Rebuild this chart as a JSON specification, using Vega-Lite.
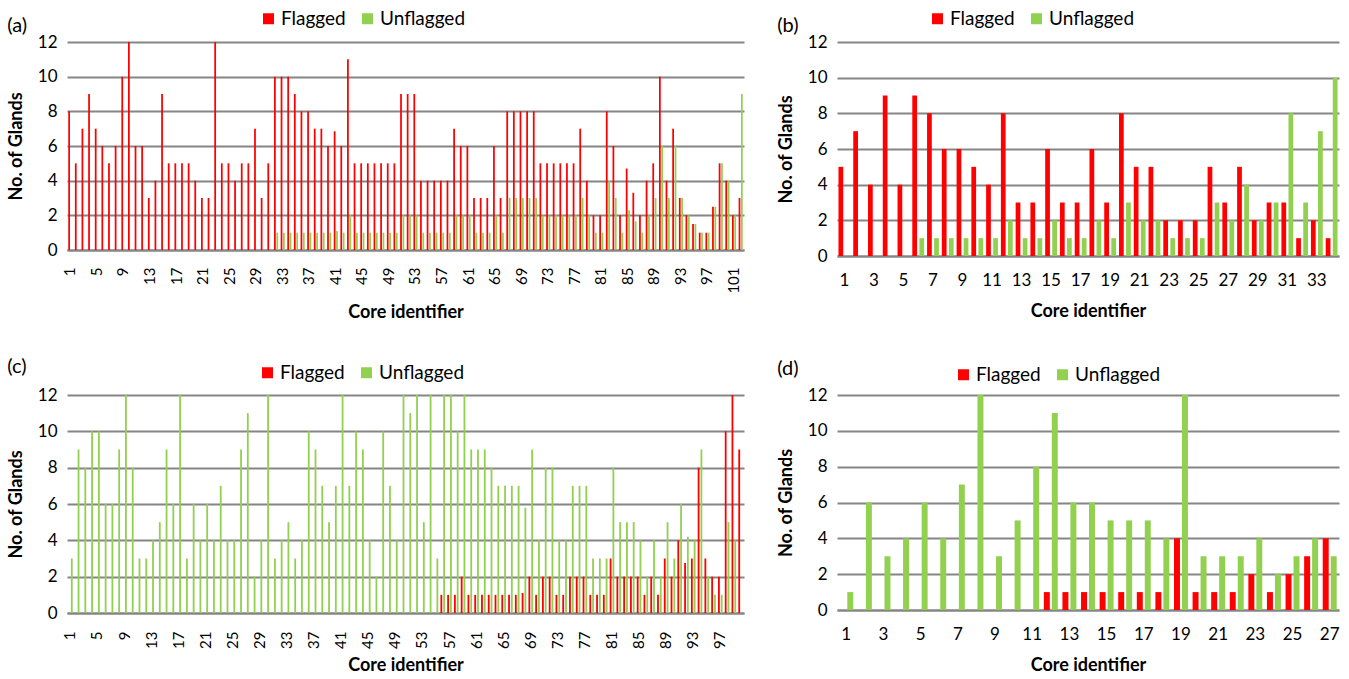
{
  "$schema": "https://vega.github.io/schema/vega-lite/v6.json",
  "background": "white",
  "padding": {"left": 7, "top": 9, "right": 0, "bottom": 0},
  "datasets": {
    "a": [
      {"c":1,"s":"Flagged","n":8},{"c":2,"s":"Flagged","n":5},{"c":3,"s":"Flagged","n":7},{"c":4,"s":"Flagged","n":9},{"c":5,"s":"Flagged","n":7},{"c":6,"s":"Flagged","n":6},{"c":7,"s":"Flagged","n":5},{"c":8,"s":"Flagged","n":6},{"c":9,"s":"Flagged","n":10},{"c":10,"s":"Flagged","n":12},
      {"c":11,"s":"Flagged","n":6},{"c":12,"s":"Flagged","n":6},{"c":13,"s":"Flagged","n":3},{"c":14,"s":"Flagged","n":4},{"c":15,"s":"Flagged","n":9},{"c":16,"s":"Flagged","n":5},{"c":17,"s":"Flagged","n":5},{"c":18,"s":"Flagged","n":5},{"c":19,"s":"Flagged","n":5},{"c":20,"s":"Flagged","n":4},
      {"c":21,"s":"Flagged","n":3},{"c":22,"s":"Flagged","n":3},{"c":23,"s":"Flagged","n":12},{"c":24,"s":"Flagged","n":5},{"c":25,"s":"Flagged","n":5},{"c":26,"s":"Flagged","n":4},{"c":27,"s":"Flagged","n":5},{"c":28,"s":"Flagged","n":5},{"c":29,"s":"Flagged","n":7},{"c":30,"s":"Flagged","n":3},
      {"c":31,"s":"Flagged","n":5},{"c":32,"s":"Flagged","n":10},{"c":33,"s":"Flagged","n":10},{"c":34,"s":"Flagged","n":10},{"c":35,"s":"Flagged","n":9},{"c":36,"s":"Flagged","n":8},{"c":37,"s":"Flagged","n":8},{"c":38,"s":"Flagged","n":7},{"c":39,"s":"Flagged","n":7},{"c":40,"s":"Flagged","n":6},
      {"c":41,"s":"Flagged","n":6.85},{"c":42,"s":"Flagged","n":6},{"c":43,"s":"Flagged","n":11},{"c":44,"s":"Flagged","n":5},{"c":45,"s":"Flagged","n":5},{"c":46,"s":"Flagged","n":5},{"c":47,"s":"Flagged","n":5},{"c":48,"s":"Flagged","n":5},{"c":49,"s":"Flagged","n":5},{"c":50,"s":"Flagged","n":5},
      {"c":51,"s":"Flagged","n":9},{"c":52,"s":"Flagged","n":9},{"c":53,"s":"Flagged","n":9},{"c":54,"s":"Flagged","n":4},{"c":55,"s":"Flagged","n":4},{"c":56,"s":"Flagged","n":4},{"c":57,"s":"Flagged","n":4},{"c":58,"s":"Flagged","n":4},{"c":59,"s":"Flagged","n":7},{"c":60,"s":"Flagged","n":6},
      {"c":61,"s":"Flagged","n":6},{"c":62,"s":"Flagged","n":3},{"c":63,"s":"Flagged","n":3},{"c":64,"s":"Flagged","n":3},{"c":65,"s":"Flagged","n":6},{"c":66,"s":"Flagged","n":3},{"c":67,"s":"Flagged","n":8},{"c":68,"s":"Flagged","n":8},{"c":69,"s":"Flagged","n":8},{"c":70,"s":"Flagged","n":8},
      {"c":71,"s":"Flagged","n":8},{"c":72,"s":"Flagged","n":5},{"c":73,"s":"Flagged","n":5},{"c":74,"s":"Flagged","n":5},{"c":75,"s":"Flagged","n":5},{"c":76,"s":"Flagged","n":5},{"c":77,"s":"Flagged","n":5},{"c":78,"s":"Flagged","n":7},{"c":79,"s":"Flagged","n":4},{"c":80,"s":"Flagged","n":2},
      {"c":81,"s":"Flagged","n":2},{"c":82,"s":"Flagged","n":8},{"c":83,"s":"Flagged","n":6},{"c":84,"s":"Flagged","n":2},{"c":85,"s":"Flagged","n":4.7},{"c":86,"s":"Flagged","n":3.3},{"c":87,"s":"Flagged","n":2},{"c":88,"s":"Flagged","n":4},{"c":89,"s":"Flagged","n":5},{"c":90,"s":"Flagged","n":10},
      {"c":91,"s":"Flagged","n":4},{"c":92,"s":"Flagged","n":7},{"c":93,"s":"Flagged","n":3},{"c":94,"s":"Flagged","n":2},{"c":95,"s":"Flagged","n":1.5},{"c":96,"s":"Flagged","n":1},{"c":97,"s":"Flagged","n":1},{"c":98,"s":"Flagged","n":2.5},{"c":99,"s":"Flagged","n":5},{"c":100,"s":"Flagged","n":4},
      {"c":101,"s":"Flagged","n":2},{"c":102,"s":"Flagged","n":3},
      {"c":32,"s":"Unflagged","n":1},{"c":33,"s":"Unflagged","n":1},{"c":34,"s":"Unflagged","n":1},{"c":35,"s":"Unflagged","n":1},{"c":36,"s":"Unflagged","n":1},{"c":37,"s":"Unflagged","n":1},{"c":38,"s":"Unflagged","n":1},{"c":39,"s":"Unflagged","n":1},{"c":40,"s":"Unflagged","n":1},
      {"c":41,"s":"Unflagged","n":1.1},{"c":42,"s":"Unflagged","n":1},{"c":43,"s":"Unflagged","n":2},{"c":44,"s":"Unflagged","n":1},{"c":45,"s":"Unflagged","n":1},{"c":46,"s":"Unflagged","n":1},{"c":47,"s":"Unflagged","n":1},{"c":48,"s":"Unflagged","n":1},{"c":49,"s":"Unflagged","n":1},{"c":50,"s":"Unflagged","n":1},
      {"c":51,"s":"Unflagged","n":2},{"c":52,"s":"Unflagged","n":2},{"c":53,"s":"Unflagged","n":2},{"c":54,"s":"Unflagged","n":1},{"c":55,"s":"Unflagged","n":1},{"c":56,"s":"Unflagged","n":1},{"c":57,"s":"Unflagged","n":1},{"c":58,"s":"Unflagged","n":1},{"c":59,"s":"Unflagged","n":2},{"c":60,"s":"Unflagged","n":2},
      {"c":61,"s":"Unflagged","n":2},{"c":62,"s":"Unflagged","n":1},{"c":63,"s":"Unflagged","n":1},{"c":64,"s":"Unflagged","n":1},{"c":65,"s":"Unflagged","n":2},{"c":66,"s":"Unflagged","n":1},{"c":67,"s":"Unflagged","n":3},{"c":68,"s":"Unflagged","n":3},{"c":69,"s":"Unflagged","n":3},{"c":70,"s":"Unflagged","n":3},
      {"c":71,"s":"Unflagged","n":3},{"c":72,"s":"Unflagged","n":2},{"c":73,"s":"Unflagged","n":2},{"c":74,"s":"Unflagged","n":2},{"c":75,"s":"Unflagged","n":2},{"c":76,"s":"Unflagged","n":2},{"c":77,"s":"Unflagged","n":2},{"c":78,"s":"Unflagged","n":3},{"c":79,"s":"Unflagged","n":2},{"c":80,"s":"Unflagged","n":1},
      {"c":81,"s":"Unflagged","n":1},{"c":82,"s":"Unflagged","n":4},{"c":83,"s":"Unflagged","n":3},{"c":84,"s":"Unflagged","n":1},{"c":85,"s":"Unflagged","n":2.3},{"c":86,"s":"Unflagged","n":1.65},{"c":87,"s":"Unflagged","n":1},{"c":88,"s":"Unflagged","n":2},{"c":89,"s":"Unflagged","n":3},{"c":90,"s":"Unflagged","n":6},
      {"c":91,"s":"Unflagged","n":3},{"c":92,"s":"Unflagged","n":6},{"c":93,"s":"Unflagged","n":3},{"c":94,"s":"Unflagged","n":2},{"c":95,"s":"Unflagged","n":1.5},{"c":96,"s":"Unflagged","n":1},{"c":97,"s":"Unflagged","n":1},{"c":98,"s":"Unflagged","n":2.5},{"c":99,"s":"Unflagged","n":5},{"c":100,"s":"Unflagged","n":4},
      {"c":101,"s":"Unflagged","n":2},{"c":102,"s":"Unflagged","n":9}
    ],
    "b": [
      {"c":1,"s":"Flagged","n":5},{"c":2,"s":"Flagged","n":7},{"c":3,"s":"Flagged","n":4},{"c":4,"s":"Flagged","n":9},{"c":5,"s":"Flagged","n":4},{"c":6,"s":"Flagged","n":9},{"c":7,"s":"Flagged","n":8},{"c":8,"s":"Flagged","n":6},{"c":9,"s":"Flagged","n":6},{"c":10,"s":"Flagged","n":5},
      {"c":11,"s":"Flagged","n":4},{"c":12,"s":"Flagged","n":8},{"c":13,"s":"Flagged","n":3},{"c":14,"s":"Flagged","n":3},{"c":15,"s":"Flagged","n":6},{"c":16,"s":"Flagged","n":3},{"c":17,"s":"Flagged","n":3},{"c":18,"s":"Flagged","n":6},{"c":19,"s":"Flagged","n":3},{"c":20,"s":"Flagged","n":8},
      {"c":21,"s":"Flagged","n":5},{"c":22,"s":"Flagged","n":5},{"c":23,"s":"Flagged","n":2},{"c":24,"s":"Flagged","n":2},{"c":25,"s":"Flagged","n":2},{"c":26,"s":"Flagged","n":5},{"c":27,"s":"Flagged","n":3},{"c":28,"s":"Flagged","n":5},{"c":29,"s":"Flagged","n":2},{"c":30,"s":"Flagged","n":3},
      {"c":31,"s":"Flagged","n":3},{"c":32,"s":"Flagged","n":1},{"c":33,"s":"Flagged","n":2},{"c":34,"s":"Flagged","n":1},
      {"c":6,"s":"Unflagged","n":1},{"c":7,"s":"Unflagged","n":1},{"c":8,"s":"Unflagged","n":1},{"c":9,"s":"Unflagged","n":1},{"c":10,"s":"Unflagged","n":1},{"c":11,"s":"Unflagged","n":1},{"c":12,"s":"Unflagged","n":2},{"c":13,"s":"Unflagged","n":1},{"c":14,"s":"Unflagged","n":1},{"c":15,"s":"Unflagged","n":2},
      {"c":16,"s":"Unflagged","n":1},{"c":17,"s":"Unflagged","n":1},{"c":18,"s":"Unflagged","n":2},{"c":19,"s":"Unflagged","n":1},{"c":20,"s":"Unflagged","n":3},{"c":21,"s":"Unflagged","n":2},{"c":22,"s":"Unflagged","n":2},{"c":23,"s":"Unflagged","n":1},{"c":24,"s":"Unflagged","n":1},{"c":25,"s":"Unflagged","n":1},
      {"c":26,"s":"Unflagged","n":3},{"c":27,"s":"Unflagged","n":2},{"c":28,"s":"Unflagged","n":4},{"c":29,"s":"Unflagged","n":2},{"c":30,"s":"Unflagged","n":3},{"c":31,"s":"Unflagged","n":8},{"c":32,"s":"Unflagged","n":3},{"c":33,"s":"Unflagged","n":7},{"c":34,"s":"Unflagged","n":10}
    ],
    "c": [
      {"c":1,"s":"Unflagged","n":3},{"c":2,"s":"Unflagged","n":9},{"c":3,"s":"Unflagged","n":8},{"c":4,"s":"Unflagged","n":10},{"c":5,"s":"Unflagged","n":10},{"c":6,"s":"Unflagged","n":6},{"c":7,"s":"Unflagged","n":6},{"c":8,"s":"Unflagged","n":9},{"c":9,"s":"Unflagged","n":12},{"c":10,"s":"Unflagged","n":8},
      {"c":11,"s":"Unflagged","n":3},{"c":12,"s":"Unflagged","n":3},{"c":13,"s":"Unflagged","n":4},{"c":14,"s":"Unflagged","n":5},{"c":15,"s":"Unflagged","n":9},{"c":16,"s":"Unflagged","n":6},{"c":17,"s":"Unflagged","n":12},{"c":18,"s":"Unflagged","n":3},{"c":19,"s":"Unflagged","n":6},{"c":20,"s":"Unflagged","n":4},
      {"c":21,"s":"Unflagged","n":6},{"c":22,"s":"Unflagged","n":4},{"c":23,"s":"Unflagged","n":7},{"c":24,"s":"Unflagged","n":4},{"c":25,"s":"Unflagged","n":4},{"c":26,"s":"Unflagged","n":9},{"c":27,"s":"Unflagged","n":11},{"c":28,"s":"Unflagged","n":2},{"c":29,"s":"Unflagged","n":4},{"c":30,"s":"Unflagged","n":12},
      {"c":31,"s":"Unflagged","n":3},{"c":32,"s":"Unflagged","n":4},{"c":33,"s":"Unflagged","n":5},{"c":34,"s":"Unflagged","n":3},{"c":35,"s":"Unflagged","n":4},{"c":36,"s":"Unflagged","n":10},{"c":37,"s":"Unflagged","n":9},{"c":38,"s":"Unflagged","n":7},{"c":39,"s":"Unflagged","n":5},{"c":40,"s":"Unflagged","n":7},
      {"c":41,"s":"Unflagged","n":12},{"c":42,"s":"Unflagged","n":7},{"c":43,"s":"Unflagged","n":10},{"c":44,"s":"Unflagged","n":9},{"c":45,"s":"Unflagged","n":4},{"c":46,"s":"Unflagged","n":2},{"c":47,"s":"Unflagged","n":10},{"c":48,"s":"Unflagged","n":7},{"c":49,"s":"Unflagged","n":4},{"c":50,"s":"Unflagged","n":12},
      {"c":51,"s":"Unflagged","n":11},{"c":52,"s":"Unflagged","n":12},{"c":53,"s":"Unflagged","n":5},{"c":54,"s":"Unflagged","n":12},{"c":55,"s":"Unflagged","n":3},{"c":56,"s":"Unflagged","n":12},{"c":57,"s":"Unflagged","n":12},{"c":58,"s":"Unflagged","n":10},{"c":59,"s":"Unflagged","n":12},{"c":60,"s":"Unflagged","n":9},
      {"c":61,"s":"Unflagged","n":9},{"c":62,"s":"Unflagged","n":9},{"c":63,"s":"Unflagged","n":8},{"c":64,"s":"Unflagged","n":7},{"c":65,"s":"Unflagged","n":7},{"c":66,"s":"Unflagged","n":7},{"c":67,"s":"Unflagged","n":7},{"c":68,"s":"Unflagged","n":5.8},{"c":69,"s":"Unflagged","n":9},{"c":70,"s":"Unflagged","n":4},
      {"c":71,"s":"Unflagged","n":8},{"c":72,"s":"Unflagged","n":8},{"c":73,"s":"Unflagged","n":4},{"c":74,"s":"Unflagged","n":4},{"c":75,"s":"Unflagged","n":7},{"c":76,"s":"Unflagged","n":7},{"c":77,"s":"Unflagged","n":7},{"c":78,"s":"Unflagged","n":3},{"c":79,"s":"Unflagged","n":3},{"c":80,"s":"Unflagged","n":3},
      {"c":81,"s":"Unflagged","n":8},{"c":82,"s":"Unflagged","n":5},{"c":83,"s":"Unflagged","n":5},{"c":84,"s":"Unflagged","n":5},{"c":85,"s":"Unflagged","n":4},{"c":86,"s":"Unflagged","n":2},{"c":87,"s":"Unflagged","n":4},{"c":88,"s":"Unflagged","n":2},{"c":89,"s":"Unflagged","n":5},{"c":90,"s":"Unflagged","n":3},
      {"c":91,"s":"Unflagged","n":6},{"c":92,"s":"Unflagged","n":4.2},{"c":93,"s":"Unflagged","n":4},{"c":94,"s":"Unflagged","n":9},{"c":95,"s":"Unflagged","n":2},{"c":96,"s":"Unflagged","n":1},{"c":97,"s":"Unflagged","n":1},{"c":98,"s":"Unflagged","n":5},{"c":99,"s":"Unflagged","n":4},
      {"c":56,"s":"Flagged","n":1},{"c":57,"s":"Flagged","n":1},{"c":58,"s":"Flagged","n":1},{"c":59,"s":"Flagged","n":2},{"c":60,"s":"Flagged","n":1},
      {"c":61,"s":"Flagged","n":1},{"c":62,"s":"Flagged","n":1},{"c":63,"s":"Flagged","n":1},{"c":64,"s":"Flagged","n":1},{"c":65,"s":"Flagged","n":1},{"c":66,"s":"Flagged","n":1},{"c":67,"s":"Flagged","n":1},{"c":68,"s":"Flagged","n":1.1},{"c":69,"s":"Flagged","n":2},{"c":70,"s":"Flagged","n":1},
      {"c":71,"s":"Flagged","n":2},{"c":72,"s":"Flagged","n":2},{"c":73,"s":"Flagged","n":1},{"c":74,"s":"Flagged","n":1},{"c":75,"s":"Flagged","n":2},{"c":76,"s":"Flagged","n":2},{"c":77,"s":"Flagged","n":2},{"c":78,"s":"Flagged","n":1},{"c":79,"s":"Flagged","n":1},{"c":80,"s":"Flagged","n":1},
      {"c":81,"s":"Flagged","n":3},{"c":82,"s":"Flagged","n":2},{"c":83,"s":"Flagged","n":2},{"c":84,"s":"Flagged","n":2},{"c":85,"s":"Flagged","n":2},{"c":86,"s":"Flagged","n":1},{"c":87,"s":"Flagged","n":2},{"c":88,"s":"Flagged","n":1},{"c":89,"s":"Flagged","n":3},{"c":90,"s":"Flagged","n":2},
      {"c":91,"s":"Flagged","n":4},{"c":92,"s":"Flagged","n":2.75},{"c":93,"s":"Flagged","n":3},{"c":94,"s":"Flagged","n":8},{"c":95,"s":"Flagged","n":3},{"c":96,"s":"Flagged","n":2},{"c":97,"s":"Flagged","n":2},{"c":98,"s":"Flagged","n":10},{"c":99,"s":"Flagged","n":12},{"c":100,"s":"Flagged","n":9}
    ],
    "d": [
      {"c":1,"s":"Unflagged","n":1},{"c":2,"s":"Unflagged","n":6},{"c":3,"s":"Unflagged","n":3},{"c":4,"s":"Unflagged","n":4},{"c":5,"s":"Unflagged","n":6},{"c":6,"s":"Unflagged","n":4},{"c":7,"s":"Unflagged","n":7},{"c":8,"s":"Unflagged","n":12},{"c":9,"s":"Unflagged","n":3},{"c":10,"s":"Unflagged","n":5},
      {"c":11,"s":"Unflagged","n":8},{"c":12,"s":"Unflagged","n":11},{"c":13,"s":"Unflagged","n":6},{"c":14,"s":"Unflagged","n":6},{"c":15,"s":"Unflagged","n":5},{"c":16,"s":"Unflagged","n":5},{"c":17,"s":"Unflagged","n":5},{"c":18,"s":"Unflagged","n":4},{"c":19,"s":"Unflagged","n":12},{"c":20,"s":"Unflagged","n":3},
      {"c":21,"s":"Unflagged","n":3},{"c":22,"s":"Unflagged","n":3},{"c":23,"s":"Unflagged","n":4},{"c":24,"s":"Unflagged","n":2},{"c":25,"s":"Unflagged","n":3},{"c":26,"s":"Unflagged","n":4},{"c":27,"s":"Unflagged","n":3},
      {"c":12,"s":"Flagged","n":1},{"c":13,"s":"Flagged","n":1},{"c":14,"s":"Flagged","n":1},{"c":15,"s":"Flagged","n":1},{"c":16,"s":"Flagged","n":1},{"c":17,"s":"Flagged","n":1},{"c":18,"s":"Flagged","n":1},{"c":19,"s":"Flagged","n":4},{"c":20,"s":"Flagged","n":1},
      {"c":21,"s":"Flagged","n":1},{"c":22,"s":"Flagged","n":1},{"c":23,"s":"Flagged","n":2},{"c":24,"s":"Flagged","n":1},{"c":25,"s":"Flagged","n":2},{"c":26,"s":"Flagged","n":3},{"c":27,"s":"Flagged","n":4}
    ]
  },
  "columns": 2,
  "bounds": "flush",
  "spacing": {"row": 139, "column": 93},
  "resolve": {"scale": {"color": "independent", "xOffset": "independent", "x": "independent", "y": "independent"}, "legend": {"color": "independent"}},
  "concat": [
    {
      "width": 677, "height": 208,
      "title": {"text": "(a)", "dy": 31},
      "data": {"name": "a"},
      "mark": {"type": "bar"},
      "encoding": {
        "x": {"field": "c", "type": "ordinal", "scale": {"paddingInner": 0.38, "paddingOuter": 0.19}, "axis": {"values": [1,5,9,13,17,21,25,29,33,37,41,45,49,53,57,61,65,69,73,77,81,85,89,93,97,101], "labelAngle": 270, "labelFontSize": 15, "labelPadding": 17, "titlePadding": 10, "title": "Core identifier"}},
        "xOffset": {"field": "s", "type": "nominal", "scale": {"domain": ["Flagged", "Unflagged"], "paddingInner": 0.25, "paddingOuter": 0}},
        "y": {"field": "n", "type": "quantitative", "scale": {"domain": [0, 12], "nice": false}, "axis": {"values": [0,2,4,6,8,10,12], "title": "No. of Glands"}},
        "color": {"field": "s", "type": "nominal", "scale": {"domain": ["Flagged", "Unflagged"], "range": ["#FF0000", "#92D050"]}, "legend": {"title": null, "legendX": 192, "legendY": -33}}
      }
    },
    {
      "width": 502, "height": 214,
      "title": {"text": "(b)", "dy": 31},
      "data": {"name": "b"},
      "mark": {"type": "bar"},
      "encoding": {
        "x": {"field": "c", "type": "ordinal", "scale": {"paddingInner": 0.2, "paddingOuter": 0.1}, "axis": {"values": [1,3,5,7,9,11,13,15,17,19,21,23,25,27,29,31,33], "labelAngle": 0, "labelFontSize": 17, "labelPadding": 16, "title": "Core identifier"}},
        "xOffset": {"field": "s", "type": "nominal", "scale": {"domain": ["Flagged", "Unflagged"], "paddingInner": 0.33, "paddingOuter": 0}},
        "y": {"field": "n", "type": "quantitative", "scale": {"domain": [0, 12], "nice": false}, "axis": {"values": [0,2,4,6,8,10,12], "title": "No. of Glands"}},
        "color": {"field": "s", "type": "nominal", "scale": {"domain": ["Flagged", "Unflagged"], "range": ["#FF0000", "#92D050"]}, "legend": {"title": null, "legendX": 91, "legendY": -33}}
      }
    },
    {
      "width": 677, "height": 218,
      "title": {"text": "(c)", "dy": 18},
      "data": {"name": "c"},
      "mark": {"type": "bar"},
      "encoding": {
        "x": {"field": "c", "type": "ordinal", "scale": {"paddingInner": 0.32, "paddingOuter": 0.16}, "axis": {"values": [1,5,9,13,17,21,25,29,33,37,41,45,49,53,57,61,65,69,73,77,81,85,89,93,97], "labelAngle": 270, "labelFontSize": 15, "labelPadding": 18, "titlePadding": 8, "title": "Core identifier"}},
        "xOffset": {"field": "s", "type": "nominal", "scale": {"domain": ["Flagged", "Unflagged"], "paddingInner": 0.35, "paddingOuter": 0}},
        "y": {"field": "n", "type": "quantitative", "scale": {"domain": [0, 12], "nice": false}, "axis": {"values": [0,2,4,6,8,10,12], "title": "No. of Glands"}},
        "color": {"field": "s", "type": "nominal", "scale": {"domain": ["Flagged", "Unflagged"], "range": ["#FF0000", "#92D050"]}, "legend": {"title": null, "legendX": 191, "legendY": -32}}
      }
    },
    {
      "width": 502, "height": 215,
      "title": {"text": "(d)", "dy": 18},
      "data": {"name": "d"},
      "mark": {"type": "bar"},
      "encoding": {
        "x": {"field": "c", "type": "ordinal", "scale": {"paddingInner": 0.25, "paddingOuter": 0.125}, "axis": {"values": [1,3,5,7,9,11,13,15,17,19,21,23,25,27], "labelAngle": 0, "labelFontSize": 17, "labelPadding": 16, "title": "Core identifier"}},
        "xOffset": {"field": "s", "type": "nominal", "scale": {"domain": ["Flagged", "Unflagged"], "paddingInner": 0.25, "paddingOuter": 0}},
        "y": {"field": "n", "type": "quantitative", "scale": {"domain": [0, 12], "nice": false}, "axis": {"values": [0,2,4,6,8,10,12], "title": "No. of Glands"}},
        "color": {"field": "s", "type": "nominal", "scale": {"domain": ["Flagged", "Unflagged"], "range": ["#FF0000", "#92D050"]}, "legend": {"title": null, "legendX": 117, "legendY": -30}}
      }
    }
  ],
  "config": {
    "font": "Lato",
    "view": {"stroke": null},
    "title": {"anchor": "start", "frame": "bounds", "fontSize": 20, "fontWeight": "normal", "font": "Lato", "color": "#000"},
    "axisY": {"grid": true, "gridColor": "#858585", "gridWidth": 2, "domain": false, "ticks": false, "tickSize": 0, "labelFontSize": 17, "labelPadding": 10, "labelColor": "#000", "titleFontSize": 18, "titleFontWeight": "bold", "titleColor": "#000", "titlePadding": 12},
    "axisX": {"grid": false, "domain": true, "domainColor": "#858585", "domainWidth": 2, "ticks": false, "tickSize": 0, "labelPadding": 14, "labelColor": "#000", "titleFontSize": 18, "titleFontWeight": "bold", "titleColor": "#000", "titlePadding": 14},
    "legend": {"orient": "none", "direction": "horizontal", "symbolType": "square", "symbolSize": 121, "symbolStrokeWidth": 0, "labelFontSize": 19, "labelColor": "#000", "labelOffset": 3, "columnPadding": 12, "padding": 0}
  }
}
